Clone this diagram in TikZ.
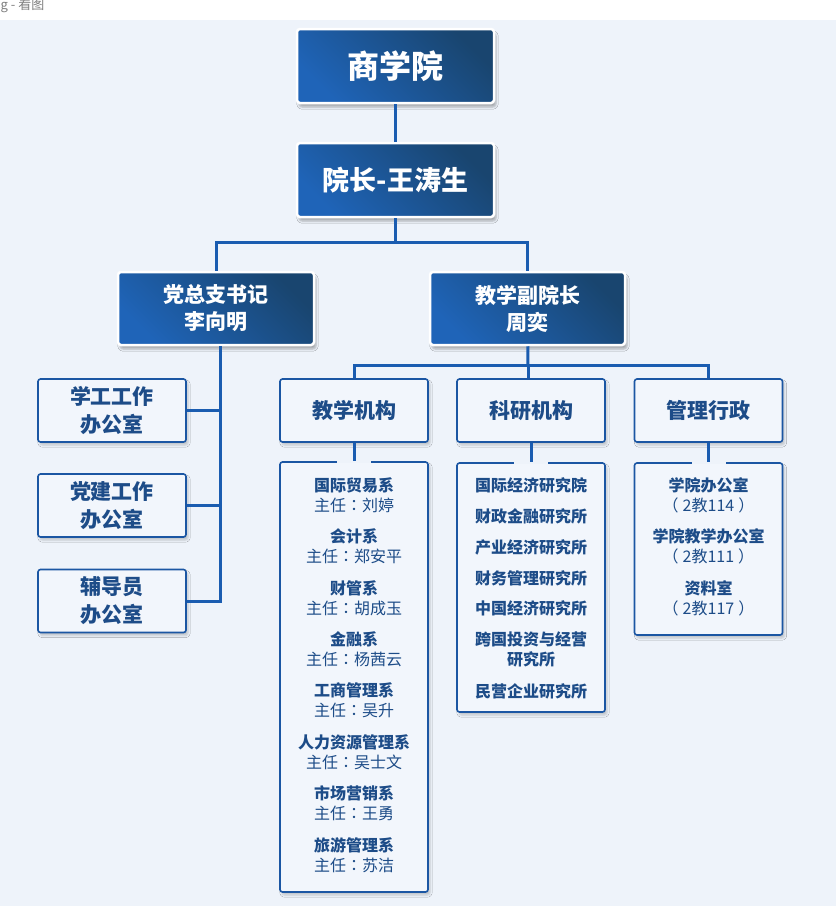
\documentclass[tikz,border=0pt]{standalone}
\usepackage{fontspec}
\setmainfont{Noto Sans CJK SC}
\newfontfamily\tcfont{Noto Sans CJK TC}
\usetikzlibrary{shadows.blur}
\definecolor{bgblue}{HTML}{EEF3FA}
\definecolor{hdlight}{HTML}{1F64B8}
\definecolor{hddark}{HTML}{19456F}
\definecolor{lineblue}{HTML}{1A5CB0}
\definecolor{rimblue}{HTML}{1B56A3}
\definecolor{txtblue}{HTML}{1D4C88}
\definecolor{boxfill}{HTML}{F2F6FC}
\begin{document}
\begin{tikzpicture}[x=1pt,y=-1pt,
        head/.style={rectangle,rounded corners=3pt,draw=white,line width=2.5pt,
            top color=hddark,bottom color=hdlight,shading angle=-45,
            text=white,align=center,inner sep=0pt,
            blur shadow={shadow xshift=2pt,shadow yshift=-4pt,shadow opacity=30}},
        unit/.style={rectangle,rounded corners=2.5pt,draw=rimblue,line width=1.6pt,
            fill=boxfill,text=txtblue,align=center,inner sep=0pt,
            minimum width=148pt,minimum height=63pt,
            font=\bfseries\fontsize{21}{28}\selectfont,
            blur shadow={shadow xshift=2pt,shadow yshift=-3pt,shadow opacity=20}},
        item/.style={text=txtblue,align=center,inner sep=0pt,
            font=\fontsize{16}{20}\selectfont},
        link/.style={draw=lineblue,line width=3pt}]
    \useasboundingbox (0,0) rectangle (836,906);
    \fill[white] (0,0) rectangle (836,20);
    \fill[bgblue] (0,20) rectangle (836,906);
    \node[anchor=west,inner sep=0pt,text=gray,font=\fontsize{13}{15}\selectfont] (title) at (0.5,6) {g - 看图};
    %% school and heads
    \node[head,minimum width=197pt,minimum height=74pt,font=\bfseries\fontsize{32}{38}\selectfont] (B) at (395.5,66) {商学院};
    \node[head,minimum width=197pt,minimum height=74pt,font=\bfseries\fontsize{27}{32}\selectfont] (D) at (395.5,180) {院长-王涛生};
    \node[head,minimum width=196pt,minimum height=73pt,font=\bfseries\fontsize{21}{27}\selectfont] (P) at (216,308.5) {党总支书记\\李向明};
    \node[head,minimum width=195pt,minimum height=73pt,font=\bfseries\fontsize{21}{27}\selectfont] (V) at (527.5,308.5) {教学副院长\\周奕};
    %% units
    \node[unit] (T) at (354,410.5) {教学机构};
    \node[unit] (R) at (531,410.5) {科研机构};
    \node[unit] (A) at (708.5,410.5) {管理行政};
    \foreach \n/\y/\t in {O1/410.5/学工工作,O2/505.5/党建工作,O3/601/辅导员}
        \node[unit] (\n) at (112,\y) {\t\\办公室};
    %% lists
    \node[unit,minimum height=430pt] (TL) at (354,677) {};
    \node[unit,minimum height=249pt] (RL) at (531,587.5) {};
    \node[unit,minimum height=172pt] (AL) at (708.5,549) {};
    \foreach \d/\p [count=\i from 0] in {国际贸易系/刘婷,会计系/郑安平,财管系/胡成玉,金融系/杨茜云,工商管理系/吴升,人力资源管理系/吴士文,市场营销系/王勇,旅游管理系/苏洁}
        \node[item] (T\i) at (354,495+51.43*\i) {\textbf{\d}\\主任{\tcfont ：}\p};
    \foreach \y/\t [count=\i] in {485/国际经济研究院,516/财政金融研究所,547/产业经济研究所,578/财务管理研究所,608/中国经济研究所,649/{跨国投资与经营\\研究所},691/民营企业研究所}
        \node[item,font=\bfseries\fontsize{16}{20}\selectfont] (R\i) at (531,\y) {\t};
    \foreach \d/\r [count=\i from 0] in {学院办公室/114,学院教学办公室/111,资料室/117}
        \node[item] (A\i) at (708.5,495+51.43*\i) {\textbf{\d}\\（\kern4pt 2教\r\kern4pt ）};
    %% links
    \coordinate (DJ) at (395.5,242);
    \coordinate (VJ) at (528,365);
    \coordinate (PS) at (220,601);
    \draw[link] (B) -- (D);
    \draw[link] (D) -- (DJ);
    \draw[link] (P) |- (DJ) -| (V);
    \draw[link] (P.south -| PS) |- (O3);
    \draw[link] (O1) -- (O1 -| PS);
    \draw[link] (O2) -- (O2 -| PS);
    \draw[link] (V) -- (VJ);
    \draw[link] (T) |- (VJ) -| (A);
    \draw[link] (VJ) -- (VJ |- R.north);
    \foreach \a/\b in {T/TL,R/RL,A/AL} {
        \draw[bgblue,line width=3pt] ([xshift=-17pt]\b.north) -- ([xshift=17pt]\b.north);
        \draw[link] (\a) -- (\b);
    }
\end{tikzpicture}
\end{document}
